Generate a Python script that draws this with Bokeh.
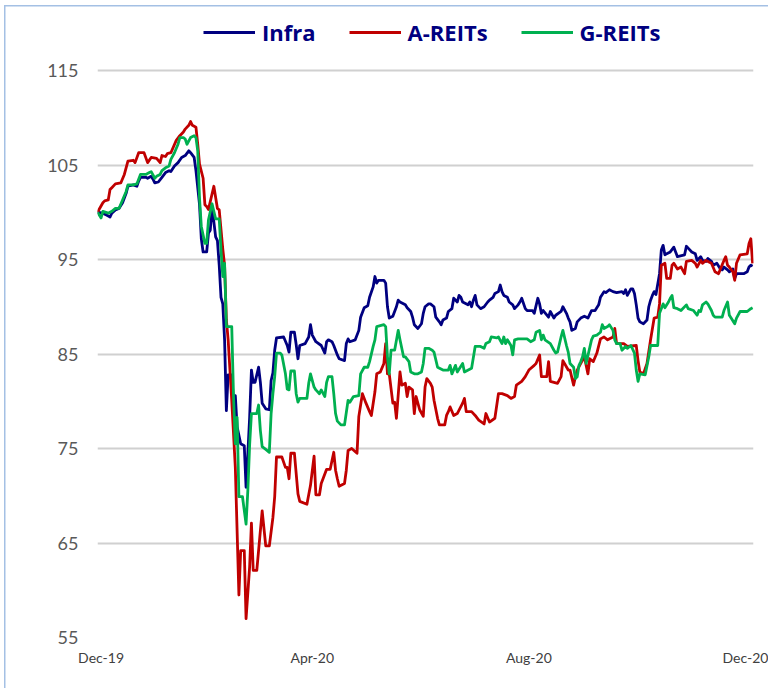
from bokeh.plotting import figure
from bokeh.models import ColumnDataSource, Range1d, FixedTicker, Legend, LegendItem
from bokeh.embed import file_html
from bokeh.resources import INLINE

# Day offsets are days since 31-Dec-2019; values are indices rebased to 100.
infra_day = [0, 3, 5, 7, 8, 10, 12, 14, 16, 17,
             20, 22, 23, 24, 27, 28, 30, 31, 32, 34,
             36, 38, 40, 41, 43, 45, 47, 49, 51, 52,
             54, 55, 57, 58, 59, 61, 62, 63, 64, 66,
             67, 68, 69, 70, 71, 72, 73, 75, 76, 77,
             78, 80, 82, 83, 84, 85, 86, 87, 88, 90,
             91, 92, 94, 96, 97, 98, 99, 100, 104, 106,
             107, 108, 110, 111, 112, 113, 116, 118, 119, 120,
             122, 125, 127, 128, 129, 131, 132, 134, 135, 138,
             139, 140, 141, 144, 146, 147, 149, 151, 152, 154,
             155, 156, 157, 160, 161, 162, 163, 165, 167, 168,
             169, 172, 173, 175, 176, 177, 179, 181, 182, 183,
             185, 186, 188, 189, 191, 192, 193, 195, 196, 198,
             199, 201, 202, 203, 204, 207, 208, 209, 210, 211,
             212, 214, 216, 218, 219, 221, 222, 224, 225, 226,
             227, 229, 230, 232, 233, 235, 236, 237, 239, 240,
             243, 244, 246, 247, 248, 249, 252, 253, 255, 256,
             259, 260, 262, 263, 264, 265, 267, 268, 270, 272,
             274, 276, 278, 280, 281, 283, 284, 286, 288, 290,
             293, 294, 295, 296, 298, 299, 300, 301, 302, 303,
             305, 307, 308, 309, 310, 311, 312, 314, 315, 316,
             317, 318, 320, 322, 323, 324, 328, 329, 330, 332,
             334, 335, 337, 338, 340, 341, 343, 344, 346, 348,
             349, 350, 352, 353, 355, 356, 357, 361, 363, 364,
             365, 366]
infra_val = [100, 99.9, 99.7, 99.5, 99.9, 100.25, 100.4, 101, 102, 102.75,
             102.9, 102.75, 103.3, 103.7, 103.7, 103.6, 103.8, 103.5, 103.1, 103.2,
             103.7, 104.2, 104.4, 104.3, 104.9, 105.25, 105.8, 106, 106.5, 106.3,
             105.8, 104.4, 100.8, 97.2, 95.8, 95.8, 97.8, 98.1, 100.6, 97.4,
             97.0, 94.4, 91.0, 90.3, 86.5, 79.0, 82.8, 82.8, 79.9, 80.6,
             77.3, 75.5, 75.3, 70.9, 74.5, 78.3, 83.3, 82.0, 82.0, 83.6,
             82.0, 79.8, 79.2, 79.1, 82.2, 83.0, 85.4, 86.7, 86.8, 85.9,
             85.2, 87.3, 87.3, 86.0, 84.5, 85.9, 86.1, 86.8, 88.1, 87.0,
             86.3, 85.9, 85.1, 86.3, 86.5, 86.3, 85.9, 84.9, 84.5, 84.3,
             86.1, 86.6, 86.3, 86.5, 87.5, 88.9, 89.9, 90.1, 91.0, 92.1,
             93.2, 92.5, 92.8, 92.8, 92.5, 90.0, 88.8, 89.0, 90.0, 90.7,
             90.5, 90.2, 89.9, 89.5, 88.9, 88.1, 87.7, 88.2, 89.3, 90.0,
             90.3, 90.3, 90.0, 88.9, 88.4, 88.1, 88.6, 88.8, 89.5, 89.8,
             90.9, 90.5, 91.2, 91.0, 90.5, 90.2, 90.5, 90.0, 90.7, 91.2,
             90.2, 89.8, 90.0, 90.5, 90.7, 91.0, 91.4, 91.6, 92.3, 91.6,
             91.2, 91.0, 90.5, 90.2, 89.8, 90.2, 90.5, 90.9, 89.8, 89.6,
             89.6, 89.3, 90.9, 90.3, 89.3, 89.6, 88.9, 89.5, 88.8, 89.1,
             89.5, 90.0, 89.3, 88.8, 88.4, 87.5, 87.7, 88.4, 88.8, 89.0,
             88.8, 89.6, 89.6, 90.2, 91.0, 91.6, 91.5, 91.8, 91.6, 91.5,
             91.6, 91.4, 91.8, 91.2, 91.9, 91.9, 91.4, 90.2, 88.8, 88.4,
             88.2, 88.6, 90.0, 90.7, 91.2, 91.6, 91.3, 93.5, 96.0, 96.5,
             95.5, 95.6, 95.8, 96.3, 95.8, 95.3, 95.5, 96.4, 96.2, 95.8,
             95.6, 94.9, 95.3, 94.9, 94.8, 95.1, 94.8, 94.4, 94.6, 94.0,
             93.9, 94.2, 93.9, 93.7, 94.0, 93.0, 93.5, 93.5, 93.7, 94.2,
             94.4, 94.3]

areit_day = [0, 3, 4, 6, 7, 8, 10, 13, 15, 17,
             20, 21, 23, 26, 28, 30, 33, 35, 36, 38,
             39, 41, 44, 46, 48, 49, 51, 52, 53, 55,
             56, 57, 59, 60, 61, 62, 65, 67, 68, 70,
             71, 72, 73, 75, 77, 79, 80, 82, 83, 85,
             86, 87, 89, 92, 94, 96, 98, 99, 100, 103,
             105, 106, 107, 108, 110, 112, 113, 117, 119, 121,
             122, 124, 125, 126, 128, 130, 132, 133, 134, 135,
             138, 139, 140, 142, 145, 146, 148, 150, 152, 153,
             155, 156, 158, 160, 161, 162, 163, 165, 166, 167,
             169, 170, 172, 173, 174, 176, 177, 178, 180, 182,
             183, 184, 186, 187, 188, 190, 191, 194, 195, 196,
             197, 199, 201, 204, 205, 206, 209, 211, 213, 216,
             217, 219, 222, 224, 226, 229, 231, 233, 234, 237,
             239, 241, 244, 245, 247, 248, 251, 252, 253, 257,
             259, 260, 263, 264, 266, 267, 268, 270, 272, 274,
             275, 277, 279, 281, 283, 285, 288, 289, 290, 294,
             296, 301, 302, 303, 305, 307, 309, 311, 313, 314,
             315, 317, 318, 320, 321, 322, 324, 326, 328, 329,
             332, 334, 335, 337, 338, 340, 343, 345, 347, 348,
             350, 351, 352, 353, 355, 356, 357, 359, 363, 364,
             365, 366]
areit_val = [100, 101, 101.2, 101.3, 102.4, 102.6, 103, 103.1, 104, 105.4,
             105.5, 105.25, 106.3, 106.3, 105.25, 105.8, 105.7, 105.25, 106, 105.9,
             106.2, 106.3, 107.6, 108.1, 108.5, 108.8, 109.2, 109.6, 109.2, 109.0,
             107.2, 105.1, 103.6, 100.8, 100.6, 100.3, 102.75, 100.4, 100.25, 96.1,
             94.4, 88.6, 86.5, 80.1, 73.0, 59.5, 64.2, 64.2, 57.0, 62.5,
             67.1, 62.1, 62.1, 68.4, 64.7, 64.7, 67.7, 69.9, 74.1, 74.1,
             73.0, 73.0, 71.8, 74.5, 74.5, 70.2, 69.4, 69.1, 71.1, 74.2,
             70.1, 70.1, 71.3, 71.8, 72.8, 72.8, 74.6, 72.7, 71.8, 71.0,
             71.3, 72.7, 74.8, 75.0, 74.5, 78.4, 80.8, 79.8, 78.9, 78.5,
             81.0, 82.9, 83.1, 84.0, 86.1, 82.9, 82.9, 79.8, 79.9, 78.2,
             83.1, 81.7, 81.9, 80.5, 81.5, 81.2, 78.7, 80.5, 79.1, 78.4,
             81.5, 82.4, 81.9, 81.5, 80.1, 78.2, 77.5, 77.5, 78.5, 78.9,
             79.4, 78.5, 78.7, 79.8, 80.3, 78.9, 78.9, 78.5, 78.0, 77.6,
             78.7, 77.8, 78.2, 80.8, 80.8, 80.6, 80.3, 80.5, 81.7, 82.1,
             82.6, 83.3, 83.8, 84.0, 84.9, 82.6, 82.6, 84.2, 82.1, 81.9,
             82.6, 84.3, 83.3, 83.3, 81.7, 82.6, 83.3, 84.0, 84.7, 82.9,
             84.5, 84.2, 85.1, 86.6, 86.8, 86.5, 86.8, 87.7, 86.1, 86.1,
             85.8, 85.9, 84.3, 83.1, 82.9, 84.0, 86.5, 88.8, 88.9, 90.3,
             94.4, 94.6, 93.0, 93.0, 94.4, 94.6, 94.0, 94.2, 93.5, 94.8,
             94.9, 94.6, 94.2, 94.9, 94.6, 94.9, 94.6, 93.7, 93.5, 94.0,
             94.9, 95.3, 94.4, 94.2, 93.7, 92.8, 94.6, 95.5, 95.6, 96.7,
             97.2, 94.6]

greit_day = [0, 2, 3, 6, 8, 10, 12, 14, 16, 17,
             20, 22, 23, 24, 27, 29, 30, 32, 33, 35,
             36, 38, 40, 41, 43, 45, 46, 48, 49, 50,
             52, 54, 55, 56, 57, 58, 60, 61, 62, 64,
             66, 68, 69, 70, 71, 72, 75, 76, 77, 78,
             79, 81, 83, 84, 85, 86, 89, 90, 91, 92,
             94, 96, 97, 98, 99, 100, 102, 103, 105, 106,
             107, 108, 110, 111, 112, 113, 117, 118, 119, 121,
             122, 124, 125, 127, 128, 129, 131, 132, 133, 134,
             136, 138, 140, 141, 143, 146, 147, 149, 151, 152,
             154, 155, 156, 160, 161, 162, 163, 164, 166, 168,
             169, 171, 172, 174, 175, 177, 179, 181, 182, 183,
             185, 187, 188, 190, 193, 196, 197, 198, 200, 201,
             204, 205, 209, 211, 214, 216, 217, 219, 220, 223,
             224, 226, 227, 228, 229, 231, 232, 233, 235, 240,
             242, 244, 245, 247, 248, 249, 250, 253, 255, 256,
             257, 259, 260, 262, 263, 264, 266, 267, 268, 269,
             270, 271, 272, 273, 276, 277, 279, 281, 282, 283,
             285, 286, 288, 289, 290, 292, 293, 295, 296, 298,
             300, 301, 302, 303, 306, 308, 309, 313, 314, 316,
             317, 319, 320, 321, 322, 324, 326, 329, 330, 333,
             335, 336, 337, 338, 340, 341, 343, 344, 345, 349,
             350, 352, 353, 354, 356, 357, 359, 363, 365, 366]
greit_val = [100, 99.4, 100.1, 99.9, 100.1, 100.4, 100.4, 101.3, 102.2, 102.9,
             102.9, 103.0, 103.5, 104.0, 104.0, 104.2, 104.3, 103.6, 103.8, 104.0,
             104.4, 104.7, 104.9, 105.6, 106.3, 107.2, 107.9, 107.9, 107.75, 107.2,
             107.9, 108.1, 107.9, 106.5, 101.5, 98.5, 96.7, 96.7, 99.2, 100.9,
             99.3, 99.3, 96.0, 93.2, 94.6, 87.9, 87.9, 80.5, 75.5, 78.3,
             69.9, 69.9, 67.0, 70.6, 75.4, 78.7, 78.7, 79.6, 76.9, 75.2,
             74.9, 74.6, 78.7, 80.8, 82.6, 85.1, 85.1, 84.9, 82.9, 81.3,
             81.2, 83.2, 83.2, 80.8, 79.9, 80.3, 80.3, 81.9, 82.9, 81.5,
             81.2, 80.8, 81.2, 80.5, 82.0, 82.6, 82.6, 80.8, 78.7, 77.9,
             77.5, 77.5, 80.1, 79.9, 80.5, 80.6, 82.9, 83.6, 83.6, 84.2,
             85.8, 86.5, 87.9, 88.1, 87.9, 84.7, 82.9, 85.4, 85.4, 87.5,
             86.5, 84.7, 84.7, 84.2, 83.1, 82.9, 82.9, 83.1, 84.0, 85.6,
             85.6, 85.4, 85.2, 83.6, 83.3, 83.3, 83.8, 82.9, 83.8, 83.1,
             84.0, 83.1, 83.5, 85.8, 85.8, 85.6, 86.1, 86.3, 86.8, 86.7,
             86.8, 86.1, 86.8, 86.1, 86.5, 85.9, 84.9, 86.5, 86.6, 86.6,
             86.3, 86.5, 87.3, 87.5, 86.5, 87.0, 86.5, 86.1, 85.4, 85.1,
             85.2, 86.8, 87.5, 85.9, 85.2, 84.0, 83.6, 82.4, 82.6, 83.8,
             84.2, 84.7, 85.6, 84.0, 86.5, 86.9, 87.0, 87.3, 88.1, 87.7,
             87.9, 88.1, 87.5, 86.5, 86.1, 86.1, 85.4, 85.8, 85.6, 85.9,
             85.1, 83.3, 82.1, 82.9, 82.8, 84.7, 85.9, 85.9, 89.3, 90.3,
             89.9, 90.5, 90.9, 91.2, 89.9, 89.8, 89.6, 90.2, 89.8, 89.6,
             89.1, 89.6, 89.5, 90.2, 90.5, 90.3, 89.6, 89.1, 88.9, 88.9,
             89.6, 90.5, 89.1, 88.8, 88.2, 88.8, 89.5, 89.5, 89.8, 89.9]

series_names = ["Infra", "A-REITs", "G-REITs"]
series_colors = ["#000080", "#C00000", "#00B050"]

y_ticks = [55, 65, 75, 85, 95, 105, 115]
x_tick_days = [2, 120, 241, 362]
x_tick_labels = ["Dec-19", "Apr-20", "Aug-20", "Dec-20"]

# the frame reaches above the top gridline (115) to leave room for the legend
y_top = 115 + 60 * (60 / 567)

p = figure(width=768, height=688, output_backend="svg", toolbar_location=None,
           x_range=Range1d(0, 366.5), y_range=Range1d(55, y_top),
           min_border_left=97, min_border_right=15, min_border_top=10,
           min_border_bottom=51)
p.outline_line_color = None
p.background_fill_color = "white"
p.border_fill_color = None
p.styles = {
    "background-color": "white",
    "background-image": "linear-gradient(#A4C0E4, #A4C0E4), linear-gradient(#A4C0E4, #A4C0E4)",
    "background-position": "4px 5px, 4px 5px",
    "background-size": "1.5px 100%, 100% 1.5px",
    "background-repeat": "no-repeat",
}

renderers = []
for days, vals, color in [(infra_day, infra_val, series_colors[0]),
                          (areit_day, areit_val, series_colors[1]),
                          (greit_day, greit_val, series_colors[2])]:
    src = ColumnDataSource(dict(x=days, y=vals))
    r = p.line("x", "y", source=src, line_color=color, line_width=2.8,
               line_join="round")
    renderers.append(r)

p.xgrid.visible = False
p.ygrid.ticker = FixedTicker(ticks=y_ticks)
p.ygrid.grid_line_color = "#D0D0D0"
p.ygrid.grid_line_width = 2

p.yaxis.ticker = FixedTicker(ticks=y_ticks)
p.yaxis.axis_line_color = None
p.yaxis.major_tick_line_color = None
p.yaxis.minor_tick_line_color = None
p.yaxis.major_tick_in = 0
p.yaxis.major_tick_out = 0
p.yaxis.major_label_standoff = 19
p.yaxis.major_label_text_font = "Lato"
p.yaxis.major_label_text_font_size = "18px"
p.yaxis.major_label_text_color = "#595959"

p.xaxis.ticker = FixedTicker(ticks=x_tick_days)
p.xaxis.major_label_overrides = dict(zip(x_tick_days, x_tick_labels))
p.xaxis.axis_line_color = None
p.xaxis.major_tick_line_color = None
p.xaxis.minor_tick_line_color = None
p.xaxis.major_tick_in = 0
p.xaxis.major_tick_out = 0
p.xaxis.major_label_standoff = 11
p.xaxis.major_label_text_font = "Lato"
p.xaxis.major_label_text_font_size = "14px"
p.xaxis.major_label_text_color = "#404040"

legend = Legend(items=[LegendItem(label=n, renderers=[r]) for n, r in zip(series_names, renderers)],
                orientation="horizontal", location=(106, 590),
                glyph_width=52, glyph_height=30, label_height=30,
                label_standoff=7, spacing=33, padding=0, margin=0,
                label_text_font="Open Sans", label_text_font_style="bold",
                label_text_font_size="22px", label_text_color="#000080",
                background_fill_alpha=0, border_line_color=None)
p.add_layout(legend)

open("out.html", "w").write(file_html(p, INLINE))
